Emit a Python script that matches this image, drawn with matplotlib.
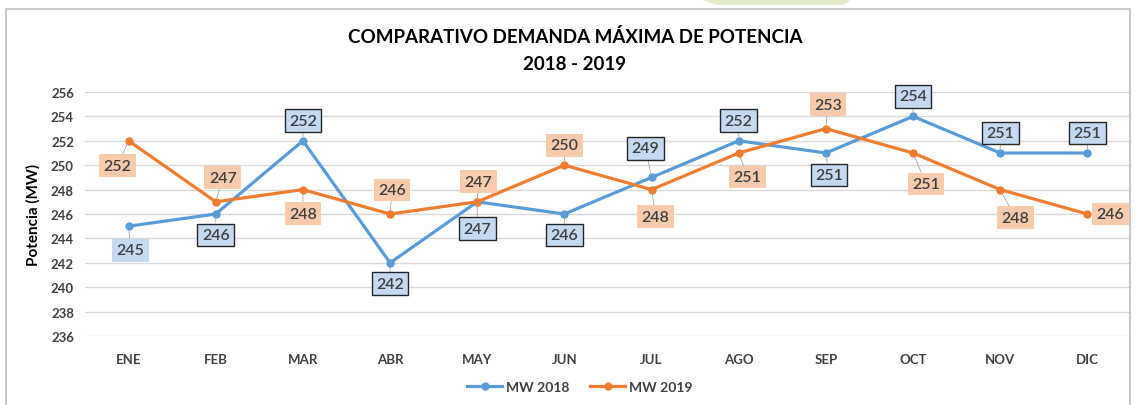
import matplotlib.pyplot as plt
from matplotlib.patches import Rectangle, Polygon

plt.rcParams['font.family'] = ['Lato', 'DejaVu Sans']

# datos
meses = ['ENE', 'FEB', 'MAR', 'ABR', 'MAY', 'JUN', 'JUL', 'AGO', 'SEP', 'OCT', 'NOV', 'DIC']
mw_2018 = [245, 246, 252, 242, 247, 246, 249, 252, 251, 254, 251, 251]
mw_2019 = [252, 247, 248, 246, 247, 250, 248, 251, 253, 251, 248, 246]

# desplazamiento de etiquetas (pixeles)
off_2018 = [(2, -24), (0, -21), (0, 20), (0, -21), (0, -27), (0, -21),
            (-6, 29), (0, 20), (3, -22), (0, 20), (0, 20), (0, 20)]
off_2019 = [(-11, -25), (7, 24), (0, -24), (2, 24), (1, 20), (0, 20),
            (4, -27), (9, -24), (2, 24), (13, -31), (15, -28), (23, 0)]
borde_2018 = [False] + [True] * 11

azul = '#5b9bd5'
naranja = '#ed7d31'

fig = plt.figure(figsize=(11.36, 4.06), dpi=100)
ax = fig.add_axes([85 / 1136, 1 - 337 / 406, (1131 - 85) / 1136, (337 - 93) / 406])

# marco y adorno superior
fig.patches.append(Rectangle((6 / 1136, -0.1), 1124 / 1136, 1 - 10 / 406 + 0.1,
                             transform=fig.transFigure, fill=False, ec='#bfbfbf', lw=1.2))
fig.patches.append(Polygon([(700 / 1136, 1), (852 / 1136, 1), (843 / 1136, 1 - 6 / 406), (717 / 1136, 1 - 6 / 406)],
                           closed=True, transform=fig.transFigure, fc='#e3ecca', ec='none'))

x = range(len(meses))
ax.plot(x, mw_2018, color=azul, lw=2.3, marker='o', ms=5, label='MW 2018', zorder=3)
ax.plot(x, mw_2019, color=naranja, lw=2.3, marker='o', ms=5, label='MW 2019', zorder=3)

px = 0.72
for i, v in enumerate(mw_2018):
    ec = '#262626' if borde_2018[i] else 'none'
    ax.annotate(str(v), (i, v), xytext=(off_2018[i][0] * px, off_2018[i][1] * px),
                textcoords='offset points', ha='center', va='center', fontsize=11.5,
                fontweight='semibold', color='#404040',
                bbox=dict(boxstyle='square,pad=0.28', fc='#c5d9f1', ec=ec, lw=1),
                arrowprops=dict(arrowstyle='-', color='#a6a6a6', lw=0.6, shrinkA=0, shrinkB=3),
                zorder=4)
for i, v in enumerate(mw_2019):
    ax.annotate(str(v), (i, v), xytext=(off_2019[i][0] * px, off_2019[i][1] * px),
                textcoords='offset points', ha='center', va='center', fontsize=11.5,
                fontweight='semibold', color='#404040',
                bbox=dict(boxstyle='square,pad=0.28', fc='#f8cbad', ec='none'),
                arrowprops=dict(arrowstyle='-', color='#a6a6a6', lw=0.6, shrinkA=0, shrinkB=3),
                zorder=4)

ax.set_xlim(-0.5, 11.5)
ax.set_ylim(236, 256)
ax.set_yticks(range(236, 257, 2))
ax.set_xticks(list(x))
ax.set_xticklabels(meses)
ax.tick_params(length=0, labelsize=9.5, colors='#404040', pad=12)
ax.tick_params(axis='y', pad=8)
for t in ax.get_xticklabels() + ax.get_yticklabels():
    t.set_fontweight('bold')
ax.grid(axis='y', color='#d9d9d9', lw=1)
ax.set_axisbelow(True)
for s in ax.spines.values():
    s.set_visible(False)

ax.set_ylabel('Potencia (MW)', fontsize=11, fontweight='bold', color='#000000', labelpad=7)

fig.text(575 / 1136, 1 - 37 / 406, 'COMPARATIVO DEMANDA MÁXIMA DE POTENCIA', ha='center', va='center',
         fontsize=13.5, fontweight='bold', color='#000000')
fig.text(575 / 1136, 1 - 65 / 406, '2018 - 2019', ha='center', va='center',
         fontsize=13.5, fontweight='bold', color='#000000')

leg = fig.legend(loc='center', bbox_to_anchor=(580 / 1136, 1 - 388 / 406), ncol=2, frameon=False,
                 prop={'weight': 'bold', 'size': 10}, handlelength=2.5, columnspacing=1.5, handletextpad=0.3)
for t in leg.get_texts():
    t.set_color('#404040')

fig.savefig('out.png', dpi=100)
